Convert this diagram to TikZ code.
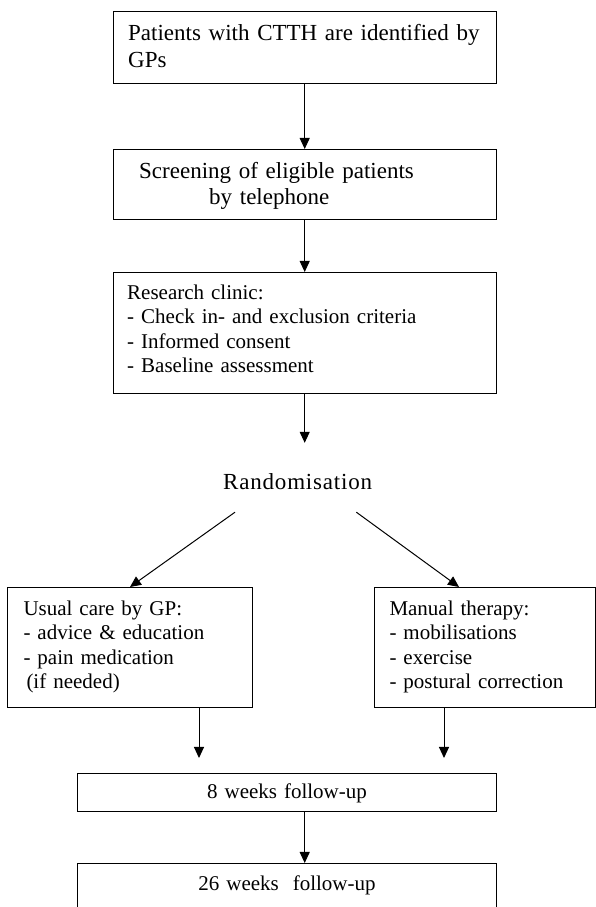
\documentclass[tikz,border=0pt]{standalone}
\usepackage{fontspec}
\setmainfont{Liberation Serif}
\newfontfamily\spacedfont[LetterSpace=3.5]{Liberation Serif}
\usetikzlibrary{arrows.meta}
\newcommand{\bigtxt}{\fontsize{23}{27}\selectfont}
\newcommand{\smalltxt}{\fontsize{21}{24.3}\selectfont}

\begin{document}
\begin{tikzpicture}[x=1pt,y=1pt,>={Triangle[length=11pt,width=10pt]},
  stage/.style={draw,line width=1pt,anchor=north west,inner ysep=0pt,align=left},
  link/.style={->,line width=1pt}]
\useasboundingbox (0,0) rectangle (596,907);
\clip (0,0) rectangle (596,907);
\node[stage,inner xsep=15pt,text width=353pt,text height=29pt,text depth=43pt,font=\bigtxt] (identify) at (112.7,896) {Patients with CTTH are identified by\\GPs};
\node[stage,inner xsep=26pt,text width=331pt,text height=29pt,text depth=41pt,font={\fontsize{23}{26}\selectfont}] (screen) at (112.7,758) {Screening of eligible patients\\\hspace*{70pt}by telephone};
\node[stage,inner xsep=14pt,text width=355pt,text height=27pt,text depth=94pt,font=\smalltxt] (clinic) at (112.7,635) {Research clinic:\\- Check in- and exclusion criteria\\- Informed consent\\- Baseline assessment};
\node[anchor=base west,inner sep=0pt,text height=47pt,text depth=22pt,font={\spacedfont\fontsize{23}{27}\selectfont}] (rand) at (223,417) {Randomisation};
\node[stage,inner xsep=16pt,text width=213pt,text height=28pt,text depth=92pt,font=\smalltxt] (usual) at (7,320) {Usual care by GP:\\- advice \& education\\- pain medication\\\hspace*{3pt}(if needed)};
\node[stage,inner xsep=15pt,text width=191pt,text height=28pt,text depth=92pt,font=\smalltxt] (manual) at (374,320) {Manual therapy:\\- mobilisations\\- exercise\\- postural correction};
\node[stage,align=center,inner xsep=0pt,text width=419pt,text height=25pt,text depth=13pt,font=\smalltxt] (week8) at (77,134) {8 weeks follow-up};
\node[stage,align=center,inner xsep=0pt,text width=419pt,text height=27pt,text depth=60pt,font=\smalltxt] (week26) at (77,44) {26 weeks\ \ follow-up};
% arrows
\coordinate (usualend) at (199,149);
\coordinate (manualend) at (444,149);
\draw[link] (identify.south) -- (screen.north);
\draw[link] (screen.south) -- (clinic.north);
\draw[link] (clinic.south) -- (clinic.south |- rand.north);
\draw[link] ([xshift=12pt]rand.south west) -- (usual.north);
\draw[link] ([xshift=-16pt]rand.south east) -- ([xshift=-26pt]manual.north);
\draw[link] (usual.south -| usualend) -- (usualend);
\draw[link] (manual.south -| manualend) -- (manualend);
\draw[link] (week8.south -| identify.south) -- (week26.north -| identify.south);
\end{tikzpicture}
\end{document}
